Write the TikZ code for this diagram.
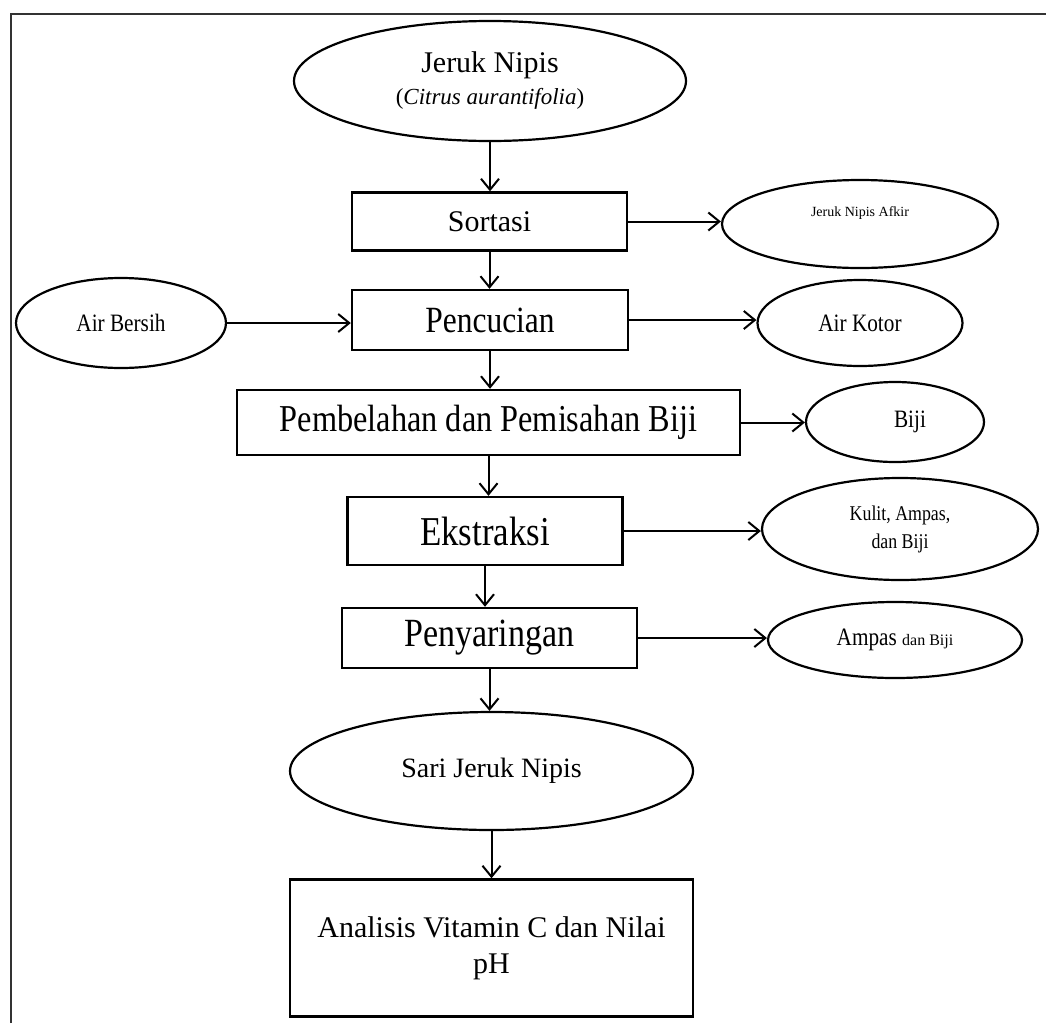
\documentclass[tikz,border=0pt]{standalone}
\usepackage{fontspec}
\setmainfont{Liberation Serif}
\newfontfamily\condf{Liberation Serif}[FakeStretch=0.85]
\usetikzlibrary{arrows.meta,shapes.geometric}
\tikzset{
  boxnode/.style={draw, line width=2.4pt, rectangle, inner sep=0pt, align=center},
  ovalnode/.style={draw, line width=2.2pt, ellipse, inner sep=0pt, align=center},
  arr/.style={draw, line width=2pt, -{Straight Barb[length=11pt,width=18pt,line width=2pt]}},
  frameline/.style={draw=black!80, line width=2.2pt}
}
\newcommand{\fs}[1]{\fontsize{#1}{#1}\selectfont}
\begin{document}
\begin{tikzpicture}[x=1pt,y=-1pt]
\useasboundingbox (0,0) rectangle (1046,1023);
\coordinate (fbl) at (11,1023);
\coordinate (ftl) at (11,14);
\coordinate (ftr) at (1046,14);
\draw[frameline] (fbl) -- (ftl) -- (ftr);

% main column
\node[ovalnode, minimum width=392pt, minimum height=120pt, font=\fs{30}] (jeruk) at (490,81)
  {Jeruk Nipis\\[2pt]{\fs{23}(\textit{Citrus aurantifolia})}};
\node[boxnode, minimum width=275pt, minimum height=58pt, font=\fs{30}] (sort) at (489.5,221.5)
  {Sortasi};
\node[boxnode, minimum width=276pt, minimum height=60pt, font=\condf\fs{37}] (penc) at (490,320)
  {Pencucian};
\node[boxnode, minimum width=503pt, minimum height=65pt, font=\condf\fs{38}] (pemb) at (488.5,422.5)
  {Pembelahan dan Pemisahan Biji};
\node[boxnode, minimum width=275pt, minimum height=68pt, font=\condf\fs{41}] (ekst) at (485,531)
  {Ekstraksi};
\node[boxnode, minimum width=295pt, minimum height=60pt, font=\condf\fs{40}] (peny) at (489.5,638)
  {Penyaringan};
\node[ovalnode, minimum width=403pt, minimum height=118pt, font=\fs{28}] (sari) at (491.5,771)
  {Sari Jeruk Nipis};
\node[boxnode, minimum width=403pt, minimum height=137pt, font=\fs{30}] (anal) at (491.5,948)
  {Analisis Vitamin C dan Nilai\\[6pt]pH};

% side nodes
\node[ovalnode, minimum width=276pt, minimum height=88pt, font=\fs{14}] (afkir) at (860,224)
  {\raisebox{8pt}[0pt][0pt]{Jeruk Nipis Afkir}};
\node[ovalnode, minimum width=210pt, minimum height=90pt, font=\condf\fs{25}] (bersih) at (121,323)
  {Air Bersih};
\node[ovalnode, minimum width=205pt, minimum height=86pt, font=\condf\fs{25}] (kotor) at (860,323)
  {Air Kotor};
\node[ovalnode, minimum width=178pt, minimum height=80pt, font=\condf\fs{25}] (biji) at (895,422)
  {\hspace*{30pt}Biji};
\node[ovalnode, minimum width=276pt, minimum height=102pt, font=\condf\fs{21}] (kulit) at (900,529)
  {Kulit, Ampas,\\[7pt]dan Biji};
\node[ovalnode, minimum width=254pt, minimum height=76pt, font=\condf\fs{25}] (ampas) at (895,640)
  {Ampas {\fs{16}\rmfamily dan Biji}};

% vertical arrows
\draw[arr] (jeruk.south) -- (jeruk.south |- sort.north);
\draw[arr] (sort.south) -- (sort.south |- penc.north);
\draw[arr] (penc.south) -- (penc.south |- pemb.north);
\draw[arr] (pemb.south) -- (pemb.south |- ekst.north);
\draw[arr] (ekst.south) -- (ekst.south |- peny.north);
\draw[arr] (peny.south) -- (peny.south |- sari.north);
\draw[arr] (sari.south) -- (sari.south |- anal.north);

% horizontal arrows
\draw[arr] (sort.east) -- (sort.east -| afkir.west);
\draw[arr] (bersih.east) -- (bersih.east -| penc.west);
\draw[arr] (penc.east) -- (penc.east -| kotor.west);
\draw[arr] (pemb.east) -- (pemb.east -| biji.west);
\draw[arr] (ekst.east) -- (ekst.east -| kulit.west);
\draw[arr] (peny.east) -- (peny.east -| ampas.west);
\end{tikzpicture}
\end{document}
